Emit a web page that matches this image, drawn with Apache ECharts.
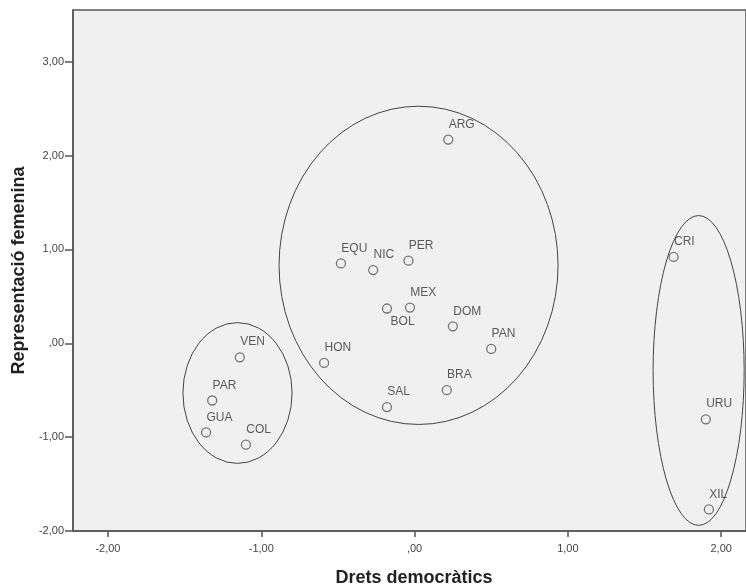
<!DOCTYPE html>
<html>
<head>
<meta charset="utf-8">
<script src="https://cdn.jsdelivr.net/npm/echarts@6/dist/echarts.min.js"></script>
<style>
html,body{margin:0;padding:0;background:#fff;overflow:hidden;}
#chart{width:746px;height:587px;}
</style>
</head>
<body>
<div id="chart"></div>
<script>
// ---- data ----
const countries = ['ARG','EQU','NIC','PER','MEX','BOL','DOM','PAN','HON','BRA','SAL','VEN','PAR','GUA','COL','CRI','URU','XIL'];
const dretsDemocratics = [0.22,-0.48,-0.27,-0.04,-0.03,-0.18,0.25,0.50,-0.59,0.21,-0.18,-1.14,-1.32,-1.36,-1.10,1.69,1.90,1.92];
const representacioFemenina = [2.17,0.85,0.78,0.88,0.38,0.37,0.18,-0.06,-0.21,-0.50,-0.68,-0.15,-0.61,-0.95,-1.08,0.92,-0.81,-1.77];
const labelBelow = ['BOL'];
const xTicks = [-2, -1, 0, 1, 2];
const yTicks = [-2, -1, 0, 1, 2, 3];
// group ellipses: [centreX, centreY, radiusX, radiusY] in data units
const groupEllipseCX = [-1.155, 0.026, 1.853];
const groupEllipseCY = [-0.53, 0.83, -0.29];
const groupEllipseRX = [0.356, 0.910, 0.297];
const groupEllipseRY = [0.75, 1.695, 1.65];

function fmt(v) {
  let s = Math.abs(v).toFixed(2).replace('.', ',').replace(/^0/, '');
  return (v < 0 ? '-' : '') + s;
}

const pointData = countries.map((c, i) => ({
  name: c,
  value: [dretsDemocratics[i], representacioFemenina[i]],
  label: labelBelow.indexOf(c) >= 0 ? { position: [8.8, 12.2] } : undefined
}));

const ellipseData = groupEllipseCX.map((cx, i) => [cx, groupEllipseCY[i], groupEllipseRX[i], groupEllipseRY[i]]);

const FONT = 'Liberation Sans, Arial, sans-serif';
const AXIS_COLOR = '#555';
const chart = echarts.init(document.getElementById('chart'), null, { renderer: 'canvas' });
chart.setOption({
  animation: false,
  backgroundColor: '#ffffff',
  grid: {
    left: 73, top: 10, right: 0, bottom: 56,
    outerBoundsMode: 'none',
    containLabel: false,
    show: true, backgroundColor: '#f0f0f0', borderColor: AXIS_COLOR, borderWidth: 1.5
  },
  xAxis: {
    type: 'value', min: -2.228, max: 2.162,
    name: 'Drets democràtics', nameLocation: 'middle', nameGap: 38,
    nameTextStyle: { fontFamily: FONT, fontSize: 18, fontWeight: 'bold', color: '#222', padding: [0, 0, 0, 9] },
    axisLine: { show: true, onZero: false, lineStyle: { color: AXIS_COLOR, width: 1.5 } },
    axisTick: { show: true, length: 6, lineStyle: { color: AXIS_COLOR, width: 1.5 }, customValues: xTicks },
    axisLabel: { customValues: xTicks, formatter: fmt, fontFamily: FONT, fontSize: 11, color: '#444', margin: 12 },
    splitLine: { show: false }
  },
  yAxis: {
    type: 'value', min: -2, max: 3.55,
    name: 'Representació femenina', nameLocation: 'middle', nameGap: 45,
    nameTextStyle: { fontFamily: FONT, fontSize: 18, fontWeight: 'bold', color: '#222' },
    axisLine: { show: true, onZero: false, lineStyle: { color: AXIS_COLOR, width: 1.5 } },
    axisTick: { show: true, length: 8, lineStyle: { color: AXIS_COLOR, width: 1.5 }, customValues: yTicks },
    axisLabel: { customValues: yTicks, formatter: fmt, fontFamily: FONT, fontSize: 11, color: '#444', margin: 9 },
    splitLine: { show: false }
  },
  series: [
    {
      type: 'custom',
      data: ellipseData,
      silent: true,
      renderItem: function (params, api) {
        const c = api.coord([api.value(0), api.value(1)]);
        const s = api.size([api.value(2), api.value(3)]);
        const rx = s[0], ry = s[1];
        const d = 'M ' + (c[0] - rx) + ' ' + c[1] +
          ' A ' + rx + ' ' + ry + ' 0 1 0 ' + (c[0] + rx) + ' ' + c[1] +
          ' A ' + rx + ' ' + ry + ' 0 1 0 ' + (c[0] - rx) + ' ' + c[1] + ' Z';
        return {
          type: 'path',
          shape: { pathData: d },
          style: { fill: 'none', stroke: '#444', lineWidth: 1 }
        };
      }
    },
    {
      type: 'scatter',
      data: pointData,
      symbol: 'circle',
      symbolSize: 9,
      itemStyle: { color: 'rgba(0,0,0,0)', borderColor: '#555', borderWidth: 1.3 },
      label: {
        show: true,
        formatter: '{b}',
        position: [5.5, -16],
        fontFamily: FONT, fontSize: 12, color: '#333'
      },
      emphasis: { disabled: true }
    }
  ]
});
</script>
</body>
</html>
